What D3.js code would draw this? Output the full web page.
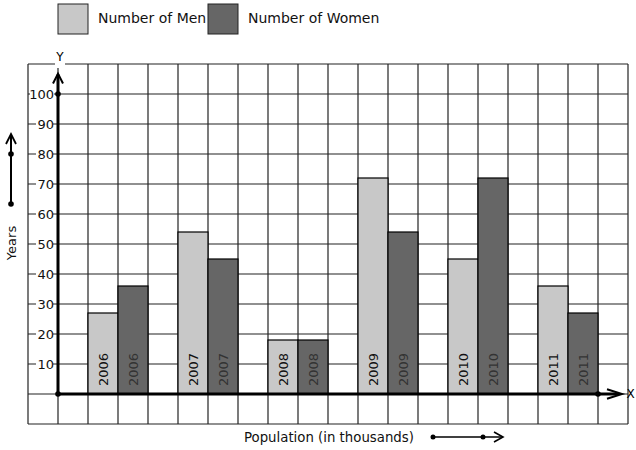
<!DOCTYPE html>
<html><head><meta charset="utf-8">
<script src="https://cdn.jsdelivr.net/npm/d3@7"></script>
<style>body{margin:0;background:#fff}svg{display:block}text{font-family:"DejaVu Sans",sans-serif}</style>
</head><body>
<svg id="c" width="636" height="450"></svg>
<script>
const years = ["2006","2007","2008","2009","2010","2011"];
const men = [27,54,18,72,45,36];
const women = [36,45,18,54,72,27];
const yTicks = [10,20,30,40,50,60,70,80,90,100];
const seriesNames = ["Number of Men","Number of Women"];
const colors = ["#c8c8c8","#666666"];

const svg = d3.select("#c");
const x = d3.scaleLinear().domain([0,20]).range([28,628]);
const y = d3.scaleLinear().domain([-10,110]).range([424,64]);

// grid
const g = svg.append("g").attr("stroke","#222").attr("stroke-width",1.2);
d3.range(0,21).forEach(i=>g.append("line").attr("x1",x(i)).attr("x2",x(i)).attr("y1",y(110)).attr("y2",y(-10)));
d3.range(-10,111,10).forEach(v=>g.append("line").attr("x1",x(0)).attr("x2",x(20)).attr("y1",y(v)).attr("y2",y(v)));

// bars
const groupStart = years.map((d,i)=>2+3*i);
[men,women].forEach((arr,s)=>{
  svg.append("g").selectAll("rect").data(arr).join("rect")
    .attr("x",(d,i)=>x(groupStart[i]+s)).attr("width",x(1)-x(0))
    .attr("y",d=>y(d)).attr("height",d=>y(0)-y(d))
    .attr("fill",colors[s]).attr("stroke","#000").attr("stroke-width",1.2);
  svg.append("g").selectAll("text").data(years).join("text")
    .attr("transform",(d,i)=>`translate(${x(groupStart[i]+s+0.5)},${y(0)-8}) rotate(-90)`)
    .attr("dominant-baseline","central").attr("font-size",13)
    .attr("fill",s===0?"#111":"#333").text(d=>d);
});

// axes
const ax = svg.append("g").attr("stroke","#000").attr("fill","none");
ax.append("line").attr("x1",x(1)).attr("x2",x(1)).attr("y1",y(0)).attr("y2",y(106.5)).attr("stroke-width",3);
ax.append("line").attr("x1",x(1)).attr("x2",x(19.7)).attr("y1",y(0)).attr("y2",y(0)).attr("stroke-width",3);
ax.append("path").attr("d",`M${x(1)-5},${y(103.5)}L${x(1)},${y(106.8)}L${x(1)+5},${y(103.5)}`).attr("stroke-width",2);
ax.append("path").attr("d",`M${x(19.3)},${y(1.6)}L${x(19.8)},${y(0)}L${x(19.3)},${y(-1.6)}`).attr("stroke-width",2);
svg.append("circle").attr("cx",x(1)).attr("cy",y(0)).attr("r",2.8);
svg.append("circle").attr("cx",x(1)).attr("cy",y(100)).attr("r",2.8);
svg.append("circle").attr("cx",x(19)).attr("cy",y(0)).attr("r",2.8);

// y tick labels with white background
const tl = svg.append("g").selectAll("g").data(yTicks).join("g");
tl.append("rect").attr("x",d=>d===100?x(0)+2:x(0)+8).attr("width",d=>d===100?24:17)
  .attr("y",d=>y(d)-7).attr("height",14).attr("fill","#fff");
tl.append("text").attr("x",x(1)-4).attr("y",d=>y(d)).attr("text-anchor","end")
  .attr("dominant-baseline","central").attr("font-size",13).attr("fill","#111").text(d=>d);

// axis letters
svg.append("rect").attr("x",x(1)-3).attr("y",y(110)-8).attr("width",10).attr("height",12).attr("fill","#fff");
svg.append("text").attr("x",x(1)+2).attr("y",y(110)-3).attr("text-anchor","middle").attr("font-size",12).text("Y");
svg.append("text").attr("x",x(19.95)).attr("y",y(0)).attr("dominant-baseline","central").attr("font-size",12).text("X");

// legend
seriesNames.forEach((n,i)=>{
  svg.append("rect").attr("x",x(1+5*i)).attr("y",4).attr("width",30).attr("height",30)
    .attr("fill",colors[i]).attr("stroke","#222").attr("stroke-width",1);
  svg.append("text").attr("x",x(1+5*i)+40).attr("y",18).attr("dominant-baseline","central")
    .attr("font-size",14).attr("fill","#111").text(n);
});

// Years label and arrow
svg.append("text").attr("transform",`translate(11,243) rotate(-90)`).attr("text-anchor","middle")
  .attr("dominant-baseline","central").attr("font-size",13).attr("fill","#111").text("Years");
svg.append("line").attr("x1",11).attr("x2",11).attr("y1",204).attr("y2",135).attr("stroke","#000").attr("stroke-width",2);
svg.append("path").attr("d","M6,144L11,134L16,144").attr("fill","none").attr("stroke","#000").attr("stroke-width",1.8);
svg.append("circle").attr("cx",11).attr("cy",204).attr("r",2.8);
svg.append("circle").attr("cx",11).attr("cy",154).attr("r",2.8);

// Population label and arrow
svg.append("text").attr("x",244).attr("y",437).attr("dominant-baseline","central")
  .attr("font-size",13.3).attr("fill","#111").text("Population (in thousands)");
svg.append("line").attr("x1",433).attr("x2",502).attr("y1",437).attr("y2",437).attr("stroke","#000").attr("stroke-width",1.6);
svg.append("path").attr("d","M494,432L503,437L494,442").attr("fill","none").attr("stroke","#000").attr("stroke-width",1.6);
svg.append("circle").attr("cx",433).attr("cy",437).attr("r",2.5);
svg.append("circle").attr("cx",483).attr("cy",437).attr("r",2.5);
</script>
</body></html>
